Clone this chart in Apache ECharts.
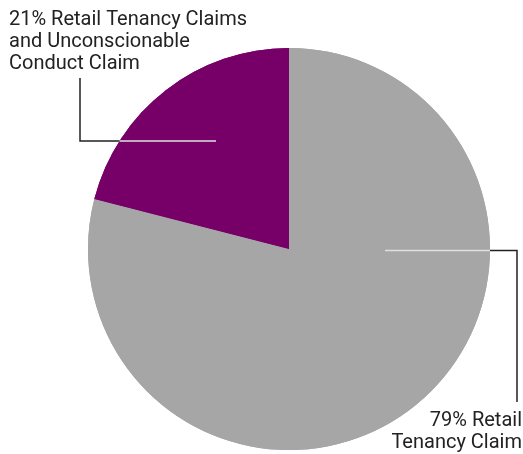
<!DOCTYPE html>
<html><head><meta charset="utf-8">
<script src="https://cdn.jsdelivr.net/npm/echarts@6/dist/echarts.min.js"></script>
<style>html,body{margin:0;padding:0;background:#fff}#c{width:523px;height:454px}</style>
</head><body><div id="c"></div>
<script>
const categories = ['Retail Tenancy Claim', 'Retail Tenancy Claims and Unconscionable Conduct Claim'];
const values = [79, 21];
const labelTexts = ['79% Retail\nTenancy Claim', '21% Retail Tenancy Claims\nand Unconscionable\nConduct Claim'];
const colors = ['#a6a6a6', '#760068'];

const cx = 289, cy = 249, R = 201;
const font = 'Roboto';
const pY = cy - 108, gY = cy + 1.5;
const pEdge = cx - Math.sqrt(R * R - 108 * 108);

function layoutOuter(p) {
  if (p.dataIndex === 1) {
    return { x: 9, y: 9, align: 'left', verticalAlign: 'top',
      labelLinePoints: [[pEdge + 2, pY], [80, pY], [80, 78]] };
  }
  return { x: 522, y: 410, align: 'right', verticalAlign: 'top',
    labelLinePoints: [[cx + R - 2, gY], [517, gY], [517, 402]] };
}
function layoutInner(p) {
  if (p.dataIndex === 1) {
    return { x: -200, y: -200,
      labelLinePoints: [[cx - 73, pY], [(cx - 73 + pEdge) / 2, pY], [pEdge, pY]] };
  }
  return { x: -200, y: -200,
    labelLinePoints: [[cx + 96, gY], [cx + 150, gY], [cx + R, gY]] };
}

const data = categories.map((n, i) => ({ name: n, value: values[i], itemStyle: { color: colors[i] } }));
const clearData = categories.map((n, i) => ({ name: n, value: values[i], itemStyle: { color: 'rgba(0,0,0,0)' } }));

const chart = echarts.init(document.getElementById('c'), null, { renderer: 'canvas' });
chart.setOption({
  animation: false,
  series: [
    {
      type: 'pie', z: 2, center: [cx, cy], radius: R, startAngle: 90, clockwise: true,
      data: data, silent: true,
      label: { show: true, formatter: p => labelTexts[p.dataIndex], fontFamily: font, fontSize: 20, lineHeight: 22, color: '#222', overflow: 'none' },
      labelLine: { show: true, lineStyle: { color: '#222', width: 1.5 } },
      labelLayout: layoutOuter,
      emphasis: { disabled: true }
    },
    {
      type: 'pie', z: 3, center: [cx, cy], radius: R, startAngle: 90, clockwise: true,
      data: data, silent: true,
      label: { show: false }, labelLine: { show: false },
      emphasis: { disabled: true }
    },
    {
      type: 'pie', z: 4, center: [cx, cy], radius: R, startAngle: 90, clockwise: true,
      data: clearData, silent: true,
      label: { show: true, formatter: ' ', fontSize: 1 },
      labelLine: { show: true, lineStyle: { color: '#e0e0e0', width: 1.5 } },
      labelLayout: layoutInner,
      emphasis: { disabled: true }
    }
  ]
});
</script></body></html>
